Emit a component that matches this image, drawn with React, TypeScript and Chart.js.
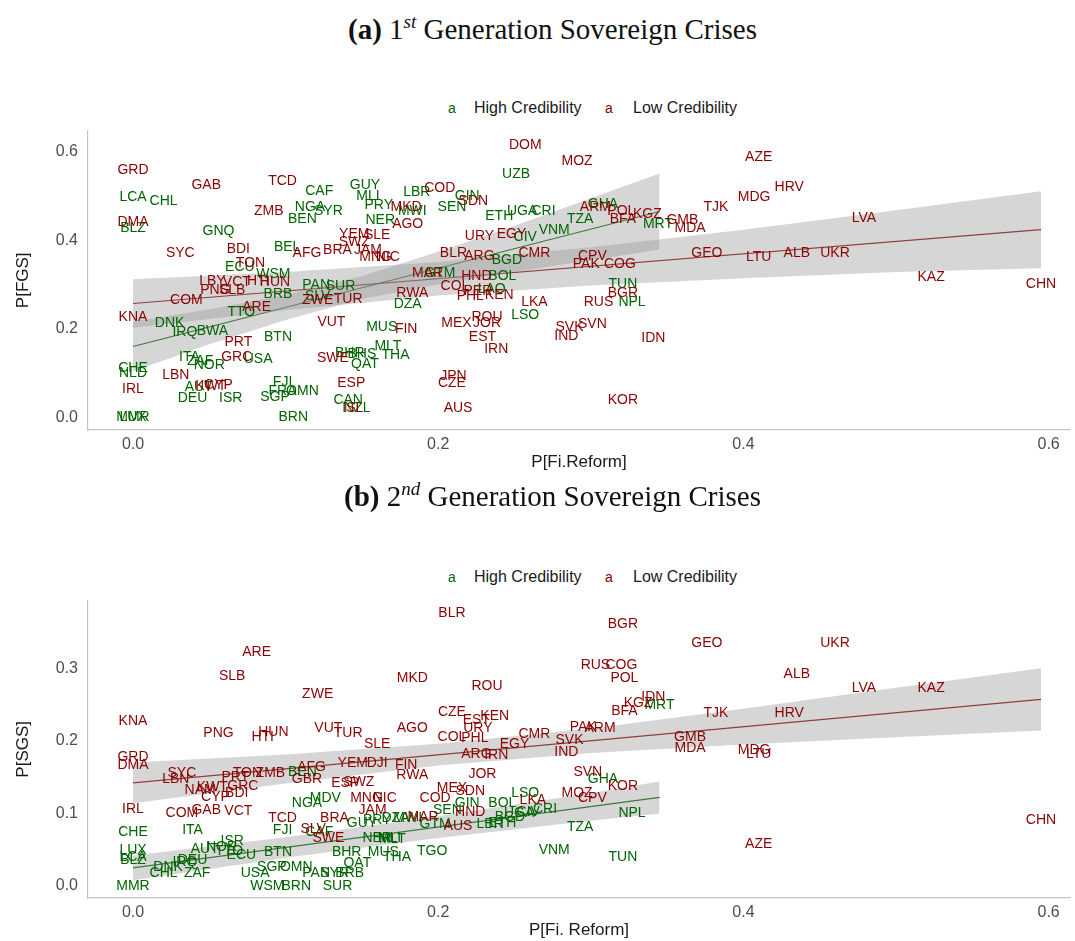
import React, { useEffect, useRef } from "react";
import { Chart, registerables } from "chart.js";
Chart.register(...registerables);

// ---------------- Panel (a): 1st generation ----------------
const p1HighCodes = ["LCA","CHL","CAF","NGA","SYR","BEN","BLZ","GNQ","BEL","ECU","WSM","BRB","PAN","SUR","SLV","TTO","DNK","IRQ","BWA","BTN","ITA","ZAF","NOR","USA","BHR","BHS","CHE","NLD","FJI","AUT","SGP","FRA","OMN","DEU","ISR","MMR","LUX","BRN","CAN","NZL","QAT","MLT","THA","MUS","DZA","LAO","BOL","GTM","LSO","TUN","NPL","UZB","GUY","MLI","LBR","GIN","SEN","PRY","MWI","NER","ETH","UGA","CRI","CIV","VNM","TZA","GHA","MRT","BGD"];
const p1HighX = [0,0.020,0.122,0.116,0.128,0.111,0,0.056,0.101,0.070,0.092,0.095,0.120,0.136,0.121,0.071,0.024,0.034,0.052,0.095,0.037,0.044,0.050,0.082,0.142,0.150,0,0,0.098,0.043,0.093,0.098,0.111,0.039,0.064,0,0,0.105,0.141,0.147,0.152,0.167,0.172,0.163,0.180,0.235,0.242,0.201,0.257,0.321,0.327,0.251,0.152,0.154,0.186,0.219,0.209,0.161,0.183,0.162,0.240,0.255,0.269,0.257,0.276,0.293,0.308,0.344,0.245];
const p1HighY = [0.497,0.488,0.510,0.474,0.465,0.447,0.427,0.420,0.384,0.339,0.323,0.278,0.298,0.296,0.273,0.237,0.212,0.192,0.195,0.181,0.135,0.126,0.117,0.131,0.144,0.142,0.111,0.099,0.079,0.068,0.045,0.059,0.059,0.043,0.043,0,0,0,0.038,0.020,0.120,0.160,0.140,0.203,0.255,0.289,0.320,0.325,0.230,0.300,0.260,0.549,0.524,0.499,0.508,0.499,0.476,0.479,0.465,0.445,0.454,0.467,0.465,0.406,0.424,0.447,0.481,0.436,0.354];

const p1LowCodes = ["GRD","GAB","TCD","ZMB","DMA","SYC","BDI","AFG","BRA","TON","LBY","VCT","HTI","HUN","PNG","SLB","COM","ARE","ZWE","TUR","KNA","VUT","PRT","GRC","SWE","LBN","IRL","CYP","KWT","ESP","ISL","FIN","RWA","COL","PER","PHL","KEN","HND","MAR","MEX","JOR","ROU","EST","IRN","LKA","JPN","CZE","AUS","BGR","RUS","SVK","SVN","IND","IDN","KOR","DOM","MOZ","COD","SDN","MKD","AGO","YEM","SLE","SWZ","JAM","MNG","NIC","URY","EGY","ARM","POL","KGZ","BFA","GMB","MDA","BLR","ARG","CMR","CPV","PAK","COG","AZE","HRV","MDG","TJK","LVA","GEO","LTU","ALB","UKR","KAZ","CHN"];
const p1LowX = [0,0.048,0.098,0.089,0,0.031,0.069,0.114,0.134,0.077,0.052,0.068,0.082,0.093,0.054,0.065,0.035,0.081,0.121,0.141,0,0.130,0.069,0.068,0.131,0.028,0,0.056,0.051,0.143,0.144,0.179,0.183,0.211,0.226,0.221,0.240,0.225,0.193,0.212,0.232,0.232,0.229,0.238,0.263,0.210,0.209,0.213,0.321,0.305,0.286,0.301,0.284,0.341,0.321,0.257,0.291,0.201,0.223,0.179,0.180,0.145,0.160,0.145,0.154,0.159,0.167,0.227,0.248,0.303,0.320,0.337,0.321,0.360,0.365,0.210,0.227,0.263,0.301,0.297,0.319,0.410,0.430,0.407,0.382,0.479,0.376,0.410,0.435,0.460,0.523,0.595];
const p1LowY = [0.558,0.524,0.533,0.465,0.442,0.372,0.381,0.370,0.377,0.348,0.307,0.305,0.307,0.305,0.287,0.287,0.264,0.248,0.264,0.268,0.226,0.214,0.169,0.135,0.133,0.095,0.063,0.072,0.070,0.077,0.020,0.199,0.280,0.296,0.284,0.273,0.275,0.320,0.325,0.212,0.212,0.226,0.181,0.153,0.260,0.093,0.077,0.020,0.280,0.260,0.203,0.210,0.183,0.178,0.038,0.614,0.578,0.519,0.488,0.476,0.436,0.415,0.411,0.395,0.377,0.361,0.361,0.409,0.413,0.476,0.465,0.458,0.447,0.445,0.427,0.372,0.363,0.370,0.363,0.345,0.345,0.587,0.521,0.497,0.474,0.451,0.372,0.361,0.372,0.372,0.316,0.300];

const p1HighFitX = [0, 0.345];
const p1HighFitY = [0.160, 0.465];
const p1HighBandX = [0, 0.05, 0.1, 0.15, 0.2, 0.25, 0.3, 0.345];
const p1HighBandLo = [0.104, 0.165, 0.220, 0.267, 0.300, 0.329, 0.355, 0.379];
const p1HighBandHi = [0.216, 0.244, 0.276, 0.319, 0.374, 0.433, 0.495, 0.551];

const p1LowFitX = [0, 0.595];
const p1LowFitY = [0.257, 0.424];
const p1LowBandX = [0, 0.1, 0.2, 0.3, 0.4, 0.5, 0.595];
const p1LowBandLo = [0.202, 0.242, 0.275, 0.298, 0.314, 0.328, 0.337];
const p1LowBandHi = [0.312, 0.328, 0.351, 0.384, 0.424, 0.468, 0.511];

const p1YTicks = [0, 0.2, 0.4, 0.6];

// ---------------- Panel (b): 2nd generation ----------------
const p2HighCodes = ["MRT","GHA","NPL","LSO","GIN","BOL","SEN","DZA","MWI","GTM","ETH","UGA","BGD","CIV","CRI","LBR","TZA","VNM","TUN","TGO","NER","MLI","MLT","MUS","THA","GUY","PRY","MDV","NGA","BEN","FJI","CAF","ITA","CHE","ISR","LUX","BLZ","LCA","DNK","CHL","IRQ","DEU","ZAF","AUT","NOR","TTO","ECU","BTN","BHR","USA","SGP","OMN","PAN","SYR","BRB","QAT","WSM","BRN","SUR","MMR"];
const p2HighX = [0.345,0.308,0.327,0.257,0.219,0.242,0.206,0.172,0.180,0.198,0.242,0.253,0.247,0.259,0.270,0.234,0.293,0.276,0.321,0.196,0.160,0.168,0.170,0.164,0.173,0.150,0.160,0.126,0.114,0.111,0.098,0.122,0.039,0,0.065,0,0,0,0.023,0.020,0.034,0.039,0.042,0.047,0.058,0.063,0.071,0.095,0.140,0.080,0.091,0.107,0.120,0.132,0.142,0.147,0.088,0.107,0.134,0];
const p2HighY = [0.249,0.147,0.100,0.128,0.114,0.114,0.105,0.094,0.094,0.085,0.087,0.100,0.095,0.102,0.106,0.085,0.081,0.050,0.040,0.048,0.066,0.066,0.064,0.047,0.040,0.087,0.091,0.121,0.114,0.157,0.077,0.074,0.077,0.074,0.062,0.050,0.036,0.040,0.026,0.018,0.033,0.036,0.018,0.051,0.053,0.048,0.043,0.047,0.047,0.018,0.026,0.026,0.018,0.018,0.018,0.032,0,0,0,0];

const p2LowCodes = ["BLR","BGR","RUS","COG","POL","GEO","MKD","ROU","IDN","KGZ","BFA","CZE","EST","KEN","URY","AGO","COL","PHL","CMR","EGY","PAK","ARM","SVK","IND","ARG","IRN","GMB","MDA","TJK","HRV","ALB","UKR","LVA","KAZ","MDG","LTU","CHN","AZE","ARE","SLB","ZWE","KNA","PNG","HUN","HTI","VUT","TUR","SLE","GRD","DMA","SYC","LBN","PRT","TON","ZMB","AFG","GBR","GRC","NAM","KWT","CYP","BDI","GAB","COM","VCT","IRL","TCD","BRA","JAM","MNG","NIC","ESP","SWZ","SLV","SWE","YEM","DJI","FIN","RWA","JOR","SVN","KOR","MOZ","CPV","LKA","MEX","SDN","COD","HND","MAR","AUS"];
const p2LowX = [0.209,0.321,0.303,0.320,0.322,0.376,0.183,0.232,0.341,0.331,0.322,0.209,0.225,0.237,0.226,0.183,0.209,0.224,0.263,0.250,0.295,0.306,0.286,0.284,0.225,0.238,0.365,0.365,0.382,0.430,0.435,0.460,0.479,0.523,0.407,0.410,0.595,0.410,0.081,0.065,0.121,0,0.056,0.092,0.085,0.128,0.141,0.160,0,0,0.032,0.028,0.067,0.075,0.090,0.117,0.114,0.072,0.044,0.052,0.054,0.068,0.048,0.032,0.069,0,0.098,0.132,0.157,0.153,0.165,0.139,0.148,0.118,0.128,0.144,0.160,0.179,0.183,0.229,0.298,0.321,0.291,0.301,0.262,0.209,0.221,0.198,0.221,0.190,0.213];
const p2LowY = [0.376,0.360,0.304,0.304,0.286,0.334,0.286,0.275,0.260,0.252,0.241,0.239,0.228,0.234,0.217,0.217,0.205,0.204,0.209,0.195,0.219,0.217,0.201,0.184,0.182,0.180,0.205,0.190,0.238,0.238,0.292,0.334,0.272,0.272,0.187,0.182,0.091,0.058,0.322,0.289,0.264,0.227,0.210,0.212,0.205,0.217,0.210,0.195,0.177,0.166,0.155,0.147,0.150,0.155,0.155,0.164,0.147,0.138,0.132,0.136,0.122,0.128,0.105,0.100,0.103,0.106,0.094,0.094,0.105,0.121,0.121,0.142,0.143,0.078,0.066,0.169,0.169,0.166,0.153,0.154,0.157,0.138,0.128,0.121,0.118,0.135,0.131,0.121,0.102,0.095,0.083];

const p2HighFitX = [0, 0.345];
const p2HighFitY = [0.025, 0.122];
const p2HighBandX = [0, 0.1, 0.2, 0.3, 0.345];
const p2HighBandLo = [0.008, 0.039, 0.066, 0.090, 0.100];
const p2HighBandHi = [0.042, 0.067, 0.096, 0.128, 0.144];

const p2LowFitX = [0, 0.595];
const p2LowFitY = [0.142, 0.257];
const p2LowBandX = [0, 0.1, 0.2, 0.3, 0.4, 0.5, 0.595];
const p2LowBandLo = [0.114, 0.141, 0.166, 0.183, 0.195, 0.205, 0.214];
const p2LowBandHi = [0.170, 0.181, 0.196, 0.217, 0.244, 0.273, 0.300];

const p2YTicks = [0, 0.1, 0.2, 0.3];

const xTicks = [0, 0.2, 0.4, 0.6];

// ---------------- styling ----------------
const GREEN = "#006400";
const RED = "#8B0000";
const BAND = "rgba(153,153,153,0.4)";
const AXIS_LINE = "#c4c4c4";
const TICK_COLOR = "#4d4d4d";
const SANS = '"Liberation Sans", Arial, sans-serif';

const zip = (xs: number[], ys: number[]) => xs.map((x, i) => ({ x, y: ys[i] }));

const labelPlugin = {
  id: "countryLabels",
  afterDatasetsDraw(chart: any) {
    const ctx = chart.ctx;
    ctx.save();
    ctx.font = `14px ${SANS}`;
    ctx.textAlign = "center";
    ctx.textBaseline = "middle";
    chart.data.datasets.forEach((ds: any, i: number) => {
      if (!ds.codes) return;
      const meta = chart.getDatasetMeta(i);
      ctx.fillStyle = ds.textColor;
      meta.data.forEach((el: any, j: number) => {
        ctx.fillText(ds.codes[j], el.x, el.y);
      });
    });
    ctx.restore();
  },
};

interface PanelSpec {
  highCodes: string[]; highX: number[]; highY: number[];
  lowCodes: string[]; lowX: number[]; lowY: number[];
  highFitX: number[]; highFitY: number[];
  highBandX: number[]; highBandLo: number[]; highBandHi: number[];
  lowFitX: number[]; lowFitY: number[];
  lowBandX: number[]; lowBandLo: number[]; lowBandHi: number[];
  yTicks: number[]; yMin: number; yMax: number;
  yTitle: string; xTitle: string;
  xAxisHeight: number; xTitlePad: number;
}

function buildConfig(p: PanelSpec): any {
  const lineBase = { type: "line", pointRadius: 0, tension: 0, fill: false };
  const datasets: any[] = [
    { ...lineBase, data: zip(p.lowBandX, p.lowBandLo), borderWidth: 0, borderColor: "rgba(0,0,0,0)" },
    { ...lineBase, data: zip(p.lowBandX, p.lowBandHi), borderWidth: 0, borderColor: "rgba(0,0,0,0)", fill: "-1", backgroundColor: BAND },
    { ...lineBase, data: zip(p.highBandX, p.highBandLo), borderWidth: 0, borderColor: "rgba(0,0,0,0)" },
    { ...lineBase, data: zip(p.highBandX, p.highBandHi), borderWidth: 0, borderColor: "rgba(0,0,0,0)", fill: "-1", backgroundColor: BAND },
    { ...lineBase, data: zip(p.lowFitX, p.lowFitY), borderWidth: 1.1, borderColor: RED },
    { ...lineBase, data: zip(p.highFitX, p.highFitY), borderWidth: 1.1, borderColor: GREEN },
    { type: "line", showLine: false, pointRadius: 0, data: zip(p.highX, p.highY), codes: p.highCodes, textColor: GREEN },
    { type: "line", showLine: false, pointRadius: 0, data: zip(p.lowX, p.lowY), codes: p.lowCodes, textColor: RED },
  ];
  return {
    type: "line",
    data: { datasets },
    plugins: [labelPlugin],
    options: {
      animation: false,
      responsive: false,
      devicePixelRatio: 1,
      events: [],
      layout: { padding: { top: 10, right: 5, left: 0, bottom: 0 } },
      plugins: { legend: { display: false }, tooltip: { enabled: false } },
      scales: {
        x: {
          type: "linear",
          min: -0.0295,
          max: 0.614,
          afterBuildTicks: (s: any) => { s.ticks = xTicks.map((v) => ({ value: v })); },
          afterFit: (s: any) => { s.height = p.xAxisHeight; },
          ticks: {
            callback: (v: any) => Number(v).toFixed(1),
            color: TICK_COLOR,
            font: { size: 16, family: SANS },
            padding: 5,
            maxRotation: 0,
          },
          grid: { display: false, drawTicks: false, tickLength: 0 },
          border: { display: true, color: AXIS_LINE, width: 1.2 },
          title: {
            display: true,
            text: p.xTitle,
            color: "#1a1a1a",
            font: { size: 17, family: SANS },
            padding: { top: 0, bottom: p.xTitlePad },
          },
        },
        y: {
          type: "linear",
          min: p.yMin,
          max: p.yMax,
          afterBuildTicks: (s: any) => { s.ticks = p.yTicks.map((v) => ({ value: v })); },
          afterFit: (s: any) => { s.width = 88; },
          ticks: {
            callback: (v: any) => Number(v).toFixed(1),
            color: TICK_COLOR,
            font: { size: 16, family: SANS },
            padding: 10,
          },
          grid: { display: false, drawTicks: false, tickLength: 0 },
          border: { display: true, color: AXIS_LINE, width: 1.2 },
          title: {
            display: true,
            text: p.yTitle,
            color: "#1a1a1a",
            font: { size: 17, family: SANS },
            padding: { top: 13, bottom: 0 },
          },
        },
      },
    },
  };
}

const panelA: PanelSpec = {
  highCodes: p1HighCodes, highX: p1HighX, highY: p1HighY,
  lowCodes: p1LowCodes, lowX: p1LowX, lowY: p1LowY,
  highFitX: p1HighFitX, highFitY: p1HighFitY,
  highBandX: p1HighBandX, highBandLo: p1HighBandLo, highBandHi: p1HighBandHi,
  lowFitX: p1LowFitX, lowFitY: p1LowFitY,
  lowBandX: p1LowBandX, lowBandLo: p1LowBandLo, lowBandHi: p1LowBandHi,
  yTicks: p1YTicks, yMin: -0.029, yMax: 0.648,
  yTitle: "P[FGS]", xTitle: "P[Fi.Reform]",
  xAxisHeight: 50, xTitlePad: 7,
};

const panelB: PanelSpec = {
  highCodes: p2HighCodes, highX: p2HighX, highY: p2HighY,
  lowCodes: p2LowCodes, lowX: p2LowX, lowY: p2LowY,
  highFitX: p2HighFitX, highFitY: p2HighFitY,
  highBandX: p2HighBandX, highBandLo: p2HighBandLo, highBandHi: p2HighBandHi,
  lowFitX: p2LowFitX, lowFitY: p2LowFitY,
  lowBandX: p2LowBandX, lowBandLo: p2LowBandLo, lowBandHi: p2LowBandHi,
  yTicks: p2YTicks, yMin: -0.0165, yMax: 0.393,
  yTitle: "P[SGS]", xTitle: "P[Fi. Reform]",
  xAxisHeight: 43, xTitlePad: 0,
};

function Panel({ spec, top, height }: { spec: PanelSpec; top: number; height: number }) {
  const ref = useRef<HTMLCanvasElement>(null);
  useEffect(() => {
    if (!ref.current) return;
    const chart = new Chart(ref.current, buildConfig(spec));
    return () => chart.destroy();
  }, [spec]);
  return (
    <canvas
      ref={ref}
      width={1075}
      height={height}
      style={{ position: "absolute", left: 0, top, width: 1075, height }}
    />
  );
}

function Title({ top, letter, num, sup }: { top: number; letter: string; num: string; sup: string }) {
  return (
    <div
      style={{
        position: "absolute", left: 0, top, width: 1075, paddingLeft: 30, boxSizing: "border-box",
        textAlign: "center", fontFamily: '"Liberation Serif", "Times New Roman", serif',
        fontSize: 29, color: "#111", lineHeight: "34px", whiteSpace: "nowrap",
      }}
    >
      <b>({letter})</b> {num}<sup style={{ fontStyle: "italic", fontSize: 19, lineHeight: 0, verticalAlign: 0, position: "relative", top: -11 }}>{sup}</sup> Generation Sovereign Crises
    </div>
  );
}

function Legend({ top }: { top: number }) {
  const base: React.CSSProperties = { position: "absolute", top, fontFamily: SANS, whiteSpace: "nowrap", lineHeight: "20px" };
  return (
    <>
      <span style={{ ...base, left: 448, fontSize: 14, color: GREEN }}>a</span>
      <span style={{ ...base, left: 474, fontSize: 16, color: "#1a1a1a" }}>High Credibility</span>
      <span style={{ ...base, left: 605, fontSize: 14, color: RED }}>a</span>
      <span style={{ ...base, left: 633, fontSize: 16, color: "#1a1a1a" }}>Low Credibility</span>
    </>
  );
}

export default function App() {
  return (
    <div style={{ position: "absolute", left: 0, top: 0, width: 1075, height: 941, background: "#fff", overflow: "hidden" }}>
      <Title top={12} letter="a" num="1" sup="st" />
      <Legend top={98} />
      <Panel spec={panelA} top={111} height={369} />
      <Title top={479} letter="b" num="2" sup="nd" />
      <Legend top={567} />
      <Panel spec={panelB} top={581} height={360} />
    </div>
  );
}
